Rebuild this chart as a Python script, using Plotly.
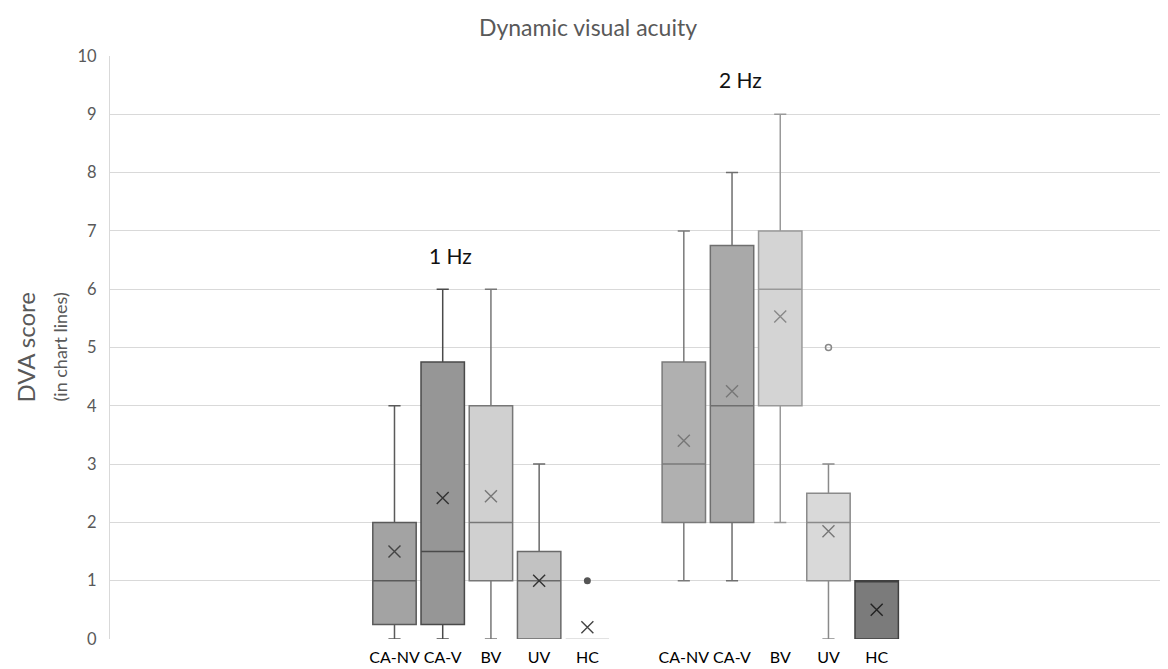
import plotly.graph_objects as go

# ---- data ----
groups = ["CA-NV", "CA-V", "BV", "UV", "HC"]
freqs = ["1 Hz", "2 Hz"]
positions_1hz = [1, 2, 3, 4, 5]
positions_2hz = [7, 8, 9, 10, 11]

lower_1hz = [0, 0, 0, 0, 0]
q1_1hz = [0.25, 0.25, 1, 0, 0]
median_1hz = [1, 1.5, 2, 1, 0]
q3_1hz = [2, 4.75, 4, 1.5, 0]
upper_1hz = [4, 6, 6, 3, 0]
mean_1hz = [1.5, 2.42, 2.45, 1.0, 0.2]

lower_2hz = [1, 1, 2, 0, 0]
q1_2hz = [2, 2, 4, 1, 0]
median_2hz = [3, 4, 6, 2, 1]
q3_2hz = [4.75, 6.75, 7, 2.5, 1]
upper_2hz = [7, 8, 9, 3, 1]
mean_2hz = [3.4, 4.25, 5.53, 1.85, 0.5]

outlier_1hz_x = [5]
outlier_1hz_y = [1]
outlier_2hz_x = [10]
outlier_2hz_y = [5]

# ---- styles ----
fill_1hz = ["#a3a3a3", "#969696", "#d0d0d0", "#c2c2c2", "#ffffff"]
line_1hz = ["#5a5a5a", "#4a4a4a", "#777777", "#6a6a6a", "#d9d9d9"]
mean_col_1hz = ["#444444", "#333333", "#777777", "#333333", "#444444"]
fill_2hz = ["#b0b0b0", "#a9a9a9", "#d4d4d4", "#d9d9d9", "#7b7b7b"]
line_2hz = ["#7a7a7a", "#6f6f6f", "#999999", "#8a8a8a", "#404040"]
mean_col_2hz = ["#777777", "#777777", "#888888", "#777777", "#222222"]

fig = go.Figure()

def add_boxes(pos, lo, q1, med, q3, hi, fills, lines):
    for i in range(len(pos)):
        fig.add_trace(go.Box(
            x=[pos[i]], lowerfence=[lo[i]], q1=[q1[i]], median=[med[i]],
            q3=[q3[i]], upperfence=[hi[i]],
            width=0.9, whiskerwidth=0.28,
            fillcolor=fills[i], line=dict(color=lines[i], width=1.5),
            boxpoints=False, showlegend=False, hoverinfo="skip",
        ))

add_boxes(positions_1hz, lower_1hz, q1_1hz, median_1hz, q3_1hz, upper_1hz, fill_1hz, line_1hz)
add_boxes(positions_2hz, lower_2hz, q1_2hz, median_2hz, q3_2hz, upper_2hz, fill_2hz, line_2hz)

fig.add_trace(go.Scatter(
    x=positions_1hz + positions_2hz, y=mean_1hz + mean_2hz, mode="markers",
    marker=dict(symbol="x-thin", size=12,
                line=dict(width=1.4, color=mean_col_1hz + mean_col_2hz)),
    showlegend=False, hoverinfo="skip"))

fig.add_trace(go.Scatter(
    x=outlier_1hz_x, y=outlier_1hz_y, mode="markers",
    marker=dict(symbol="circle", size=7, color="#555555"),
    showlegend=False, hoverinfo="skip"))
fig.add_trace(go.Scatter(
    x=outlier_2hz_x, y=outlier_2hz_y, mode="markers",
    marker=dict(symbol="circle-open", size=6, color="#888888", line=dict(width=1.5)),
    showlegend=False, hoverinfo="skip"))

font_family = "Lato, 'Open Sans', sans-serif"

# page has an 8px body margin; figure is sized to fill the rest of the window
W, H = 1160, 661
ML, MR, MT, MB = 102, 2, 48, 30
PW = W - ML - MR

def px_to_paper_x(page_x):
    return (page_x - 8 - ML) / PW

fig.update_layout(
    width=W, height=H,
    margin=dict(l=ML, r=MR, t=MT, b=MB, autoexpand=False),
    paper_bgcolor="white", plot_bgcolor="white",
    boxmode="overlay",
    font=dict(family=font_family, color="#595959"),
    title=dict(text="Dynamic visual acuity", x=(588 - 8) / W, xanchor="center",
               y=1 - (28 - 8) / H, yanchor="middle",
               font=dict(size=23, color="#595959", family=font_family)),
    xaxis=dict(range=[-4.9, 17.0], tickmode="array",
               tickvals=positions_1hz + positions_2hz,
               ticktext=groups + groups, tickangle=0,
               showgrid=False, zeroline=False, showline=False, ticks="",
               tickfont=dict(size=16, color="#000000", family=font_family),
               ticklabelstandoff=7, automargin=False),
    yaxis=dict(range=[0, 10], dtick=1, showgrid=True, gridcolor="#d9d9d9",
               gridwidth=1, zeroline=False, showline=True, linecolor="#d9d9d9",
               linewidth=1, ticks="", ticklabelstandoff=9, automargin=False,
               tickfont=dict(size=16.5, color="#595959", family=font_family)),
    annotations=[
        dict(text="DVA score", x=px_to_paper_x(25), xref="paper", xanchor="center",
             y=0.5, yref="paper", yanchor="middle", textangle=-90,
             showarrow=False, font=dict(size=24, color="#595959", family=font_family)),
        dict(text="(in chart lines)", x=px_to_paper_x(59), xref="paper", xanchor="center",
             y=0.5, yref="paper", yanchor="middle", textangle=-90,
             showarrow=False, font=dict(size=18, color="#595959", family=font_family)),
        dict(text=freqs[0], x=2.16, y=6.57, xref="x", yref="y", showarrow=False,
             font=dict(size=21, color="#111111", family=font_family)),
        dict(text=freqs[1], x=8.17, y=9.6, xref="x", yref="y", showarrow=False,
             font=dict(size=21, color="#111111", family=font_family)),
    ],
)

fig.write_html("out.html")
